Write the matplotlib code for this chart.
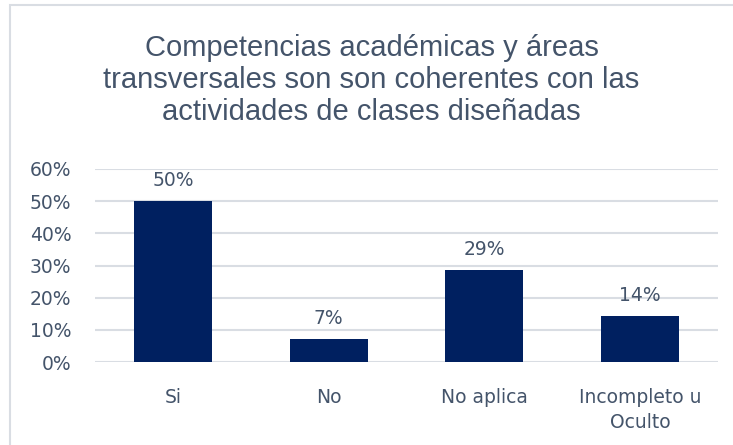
import numpy as np
import matplotlib.pyplot as plt
from matplotlib.patches import Rectangle
from matplotlib.ticker import PercentFormatter

categorias = ['Si', 'No', 'No aplica', 'Incompleto u\nOculto']
valores = [7 / 14, 1 / 14, 4 / 14, 2 / 14]
etiquetas = ['50%', '7%', '29%', '14%']
titulo = ('Competencias académicas y áreas\n'
          'transversales son son coherentes con las\n'
          'actividades de clases diseñadas')

plt.rcParams['font.family'] = ['DejaVu Sans']
texto = '#44546A'
barra = '#002060'

fig = plt.figure(figsize=(7.33, 4.45), dpi=100)
# marco del grafico
fig.patches.append(Rectangle((10 / 733, -0.01), 1.0, 1 - 5 / 445 + 0.01,
                             transform=fig.transFigure, fill=False,
                             edgecolor='#D9DDE3', lw=1.5))

ax = fig.add_axes([95 / 733, 1 - 362 / 445, (718 - 95) / 733, (362 - 169) / 445])
x = np.arange(len(categorias))
ax.bar(x, valores, width=0.5, color=barra, zorder=3)
for xi, v, lab in zip(x, valores, etiquetas):
    ax.text(xi, v + 0.035, lab, ha='center', va='bottom', fontsize=13.5, color=texto)

ax.set_ylim(0, 0.6)
ax.set_xlim(-0.5, len(categorias) - 0.5)
ax.set_yticks(np.arange(0, 0.61, 0.1))
ax.yaxis.set_major_formatter(PercentFormatter(1.0, decimals=0))
ax.set_xticks(x)
ax.set_xticklabels(categorias, linespacing=1.35, va='top')
ax.tick_params(axis='both', length=0, labelsize=13.5, labelcolor=texto)
ax.tick_params(axis='x', pad=19)
ax.tick_params(axis='y', pad=17)
ax.grid(axis='y', color='#D9DDE3', lw=1.5, zorder=0)
for s in ax.spines.values():
    s.set_visible(False)

fig.text(0.5 + 5 / 733, 1 - 80 / 445, titulo, ha='center', va='center',
         fontsize=21, color=texto, linespacing=1.2,
         family=['Liberation Sans', 'DejaVu Sans'])

fig.savefig('out.png', dpi=100)
